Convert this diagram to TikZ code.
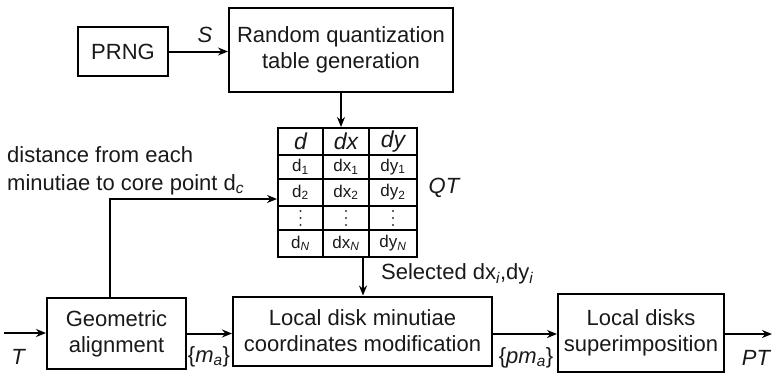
\documentclass[tikz,border=0pt]{standalone}
\usepackage{fontspec}
\setmainfont{Liberation Sans}
\usetikzlibrary{arrows.meta}
\begin{document}
\begin{tikzpicture}[x=1pt,y=-1pt,
  every node/.style={font=\fontsize{22}{26}\selectfont, inner sep=0pt, text=black!90},
  blk/.style={draw=black, line width=2pt, align=center},
  link/.style={line width=2pt, -{Stealth[length=10pt,width=8pt]}},
  lbl/.style={font=\fontsize{22}{26}\selectfont\itshape},
  cell/.style={font=\fontsize{17}{20}\selectfont},
  head/.style={font=\fontsize{23}{26}\selectfont\itshape},
  grid/.style={line width=2pt},
  vdot/.style={fill=black!80, draw=none}]
\useasboundingbox (0,0) rectangle (773,376);

% processing blocks
\node[blk, minimum width=90, minimum height=49] (prng) at (123,51.5) {PRNG};
\node[blk, minimum width=224, minimum height=84] (rq) at (341,50) {Random quantization\\table generation};
\node[blk, minimum width=139, minimum height=71] (geo) at (116.5,333.5) {Geometric\\alignment};
\node[blk, minimum width=259, minimum height=69] (ld) at (362.5,331) {Local disk minutiae\\coordinates modification};
\node[blk, minimum width=166, minimum height=78] (lds) at (641,333) {Local disks\\superimposition};

% quantization table
\node[blk, minimum width=139, minimum height=129] (qt) at (347.5,192.5) {};
\draw[grid] (323,128) -- (323,257) (369,128) -- (369,257);
\draw[grid] (278,155) -- (417,155) (278,179) -- (417,179)
            (278,206) -- (417,206) (278,230) -- (417,230);
\node[head] (h1) at (300.5,141.5) {d};
\node[head] (h2) at (346,141.5) {dx};
\node[head] (h3) at (393,141.5) {dy};
\node[cell] (a1) at (300.5,167) {d\textsubscript{1}};
\node[cell] (b1) at (346,167) {dx\textsubscript{1}};
\node[cell] (c1) at (393,167) {dy\textsubscript{1}};
\node[cell] (a2) at (300.5,192.5) {d\textsubscript{2}};
\node[cell] (b2) at (346,192.5) {dx\textsubscript{2}};
\node[cell] (c2) at (393,192.5) {dy\textsubscript{2}};
% vertical ellipsis row
\foreach \cx in {300.5,346,393}
  \foreach \cy in {211,218,225}
    \fill[vdot] (\cx,\cy) circle (1.2pt);
\node[cell] (aN) at (300.5,243.5) {d\textsubscript{\itshape N}};
\node[cell] (bN) at (346,243.5) {dx\textsubscript{\itshape N}};
\node[cell] (cN) at (393,243.5) {dy\textsubscript{\itshape N}};
\node[lbl] (qtl) at (444,188) {QT};

% connectors
\draw[link] (prng.east) -- (prng.east -| rq.west);
\node[lbl] (s) at (205,35) {S};
\draw[link] (rq.south) -- (rq.south |- qt.north);

\coordinate (bend) at (110,199);
\draw[link] (geo.north -| bend) -- (bend) -- (bend -| qt.west);
\node[anchor=west, align=left] (dist) at (7,171)
  {distance from each\\[2pt]minutiae to core point d\textsubscript{\itshape c}};

\coordinate (tin) at (4,333);
\draw[link] (tin) -- (tin -| geo.west);
\node[lbl] (t) at (18,357) {T};

\draw[link] (geo.east) -- (geo.east -| ld.west);
\node (ma) at (209,357) {\{\textit{m}\textsubscript{\itshape a}\}};

\coordinate (sel) at (363,0);
\draw[link] (qt.south -| sel) -- (sel |- ld.north);
\node[anchor=west] (seltxt) at (381,274) {Selected dx\textsubscript{\itshape i},dy\textsubscript{\itshape i}};

\coordinate (mid) at (0,334);
\draw[link] (ld.east |- mid) -- (lds.west |- mid);
\node (pma) at (526,358) {\{\textit{pm}\textsubscript{\itshape a}\}};

\coordinate (tout) at (772,334);
\draw[link] (lds.east |- tout) -- (tout);
\node[lbl] (pt) at (756,358) {PT};
\end{tikzpicture}
\end{document}
